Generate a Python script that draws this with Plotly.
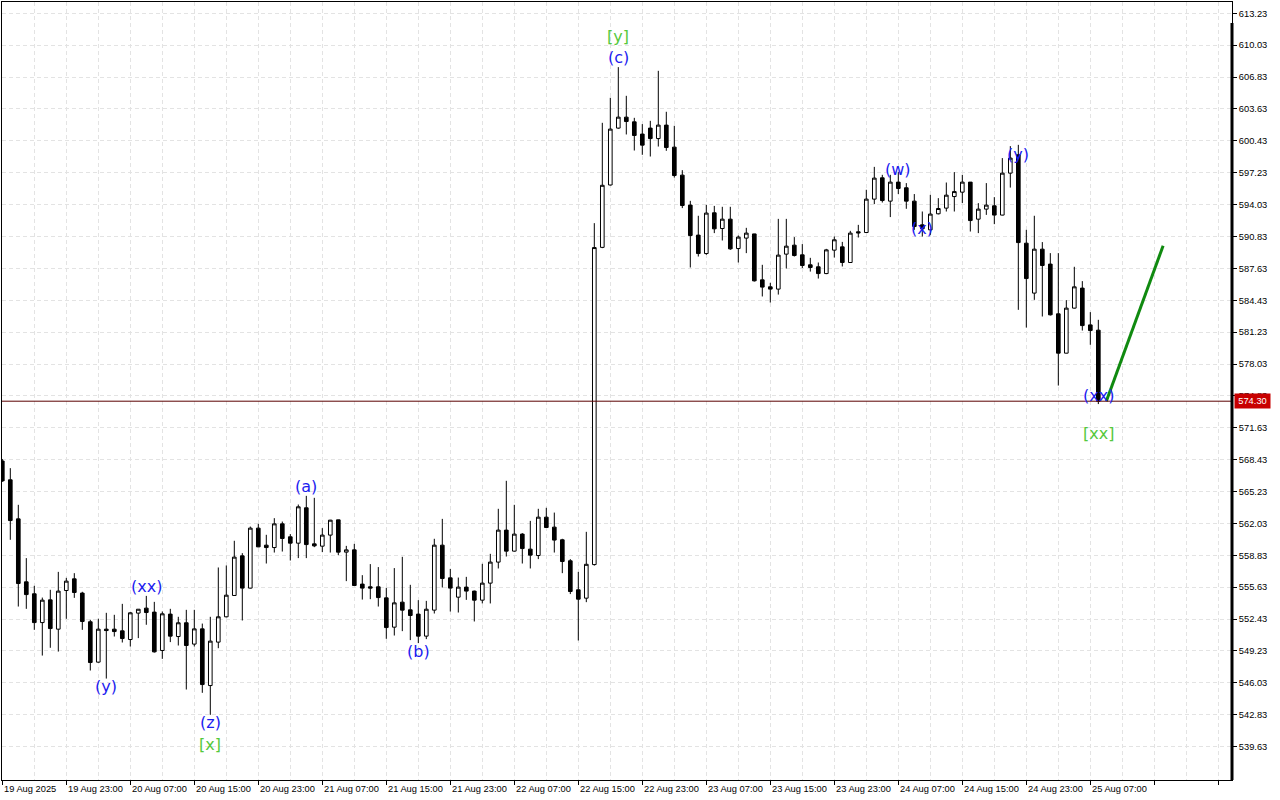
import pandas as pd
import plotly.graph_objects as go

# ---------------- data ----------------
start_time = "2025-08-19 15:00"

opens = [568.30, 566.41, 562.49, 556.17, 554.97, 552.08, 554.36, 551.42, 555.30, 556.47,
         555.04, 552.16, 548.11, 551.42, 551.42, 551.25, 550.38, 553.03, 553.53, 553.13,
         549.28, 552.93, 550.68, 552.06, 549.92, 551.45, 545.76, 550.12, 552.66, 554.80,
         558.78, 555.54, 561.56, 559.85, 559.61, 561.99, 560.69, 560.05, 563.60, 559.98,
         559.75, 560.86, 562.39, 559.15, 559.38, 555.94, 555.67, 555.67, 554.56, 551.62,
         554.13, 553.36, 552.93, 550.72, 553.33, 559.85, 556.57, 554.63, 555.64, 555.24,
         554.33, 556.04, 558.15, 561.36, 559.25, 560.96, 559.45, 558.81, 562.66, 561.66,
         560.39, 558.28, 555.37, 554.53, 557.90, 589.74, 596.00, 601.71, 602.81, 602.34,
         601.11, 601.71, 600.66, 602.01, 599.80, 596.99, 593.98, 590.97, 589.12, 593.21,
         591.63, 592.57, 589.62, 590.67, 591.09, 586.48, 585.78, 585.55, 589.06, 589.96,
         588.99, 587.99, 587.79, 587.11, 589.46, 589.79, 588.22, 591.30, 591.23, 594.58,
         596.72, 594.38, 596.29, 595.72, 594.38, 592.00, 591.50, 593.11, 593.68, 594.84,
         595.28, 596.29, 592.57, 593.58, 593.91, 592.98, 597.19, 599.03, 590.16, 585.15,
         589.56, 588.06, 583.07, 579.12, 583.64, 585.65, 581.96, 581.43]
highs = [568.50, 567.58, 563.90, 558.55, 555.77, 554.59, 555.37, 557.17, 556.57, 557.04,
         555.17, 552.36, 552.46, 553.06, 552.86, 553.96, 553.13, 553.43, 554.76, 554.16,
         553.19, 553.46, 552.66, 553.36, 553.36, 551.98, 552.66, 557.61, 557.81, 560.29,
         559.05, 561.72, 561.99, 560.89, 562.56, 562.22, 560.96, 563.93, 564.80, 564.60,
         561.56, 562.39, 562.40, 559.78, 559.98, 556.84, 557.95, 557.65, 555.57, 557.55,
         558.68, 555.87, 554.33, 554.26, 560.49, 562.49, 557.47, 556.60, 556.67, 555.29,
         557.98, 558.98, 563.50, 566.31, 563.90, 561.06, 562.29, 563.50, 563.60, 563.12,
         560.49, 558.45, 557.17, 561.19, 592.17, 602.24, 604.75, 607.83, 604.95, 602.74,
         602.11, 602.44, 607.46, 603.35, 601.94, 597.49, 594.41, 592.91, 594.01, 593.90,
         593.81, 593.81, 590.93, 591.70, 591.10, 587.99, 586.18, 592.60, 592.60, 590.77,
         590.07, 588.69, 588.22, 589.59, 590.83, 590.29, 591.40, 592.00, 595.52, 597.82,
         597.02, 597.02, 597.32, 596.19, 595.09, 593.34, 595.01, 594.68, 596.25, 597.29,
         597.02, 596.30, 594.18, 596.19, 594.78, 598.70, 599.90, 600.03, 591.50, 592.91,
         590.27, 589.16, 589.16, 584.44, 587.79, 586.35, 583.24, 582.47]
lows = [566.20, 560.39, 553.69, 553.46, 551.35, 548.77, 549.55, 549.17, 552.46, 554.56,
        551.35, 547.27, 548.05, 546.46, 550.68, 550.08, 549.68, 550.52, 551.86, 549.07,
        548.44, 550.12, 549.78, 545.36, 549.68, 545.03, 542.82, 549.51, 552.60, 554.75,
        552.29, 555.50, 559.65, 558.01, 559.11, 559.21, 558.31, 558.55, 558.55, 559.65,
        559.15, 559.11, 558.85, 556.24, 555.75, 554.39, 554.43, 553.69, 550.45, 550.78,
        551.22, 550.32, 550.02, 550.42, 552.99, 555.60, 553.19, 553.09, 554.36, 552.19,
        554.00, 554.00, 557.51, 558.71, 559.20, 558.01, 557.51, 558.45, 561.60, 559.11,
        557.04, 554.94, 550.28, 554.13, 557.80, 589.66, 595.95, 601.64, 601.07, 599.46,
        599.03, 598.86, 599.86, 599.43, 596.75, 593.68, 587.72, 588.82, 588.99, 591.17,
        590.43, 589.49, 588.22, 589.16, 586.31, 584.81, 584.20, 585.00, 587.62, 588.82,
        587.66, 587.31, 586.61, 587.05, 588.72, 587.82, 588.20, 590.73, 591.20, 594.08,
        594.24, 592.78, 595.09, 593.61, 591.50, 590.83, 591.00, 593.05, 593.34, 593.34,
        594.18, 591.33, 591.17, 593.00, 592.07, 592.95, 595.74, 583.47, 581.69, 584.47,
        582.80, 582.90, 575.87, 579.10, 583.60, 581.39, 579.96, 574.01]
closes = [566.30, 562.32, 556.00, 554.89, 552.08, 554.33, 551.48, 555.24, 556.24, 555.10,
          552.19, 548.07, 551.42, 551.28, 551.18, 550.48, 553.06, 553.42, 553.09, 549.14,
          552.96, 550.72, 552.06, 549.78, 551.45, 545.86, 550.22, 552.66, 554.83, 558.65,
          555.54, 561.56, 559.68, 559.61, 561.99, 560.52, 560.05, 563.70, 559.91, 559.78,
          560.86, 562.36, 559.15, 559.38, 555.80, 555.54, 555.54, 554.59, 551.58, 554.06,
          553.33, 552.79, 550.72, 553.42, 559.85, 556.50, 555.54, 555.64, 555.24, 554.33,
          556.04, 558.15, 561.36, 559.25, 560.96, 559.51, 558.85, 562.66, 561.62, 560.36,
          558.21, 555.20, 554.43, 557.93, 589.72, 595.97, 601.61, 602.81, 602.37, 600.97,
          600.00, 600.66, 602.01, 599.76, 596.95, 593.94, 590.93, 589.12, 593.18, 591.60,
          592.57, 589.59, 590.77, 591.17, 586.38, 585.75, 585.55, 588.96, 589.86, 588.92,
          587.92, 587.72, 587.11, 589.49, 590.50, 588.22, 591.17, 591.20, 594.58, 596.69,
          594.44, 596.29, 595.65, 594.38, 591.83, 591.60, 593.08, 593.64, 594.98, 595.34,
          596.29, 592.43, 593.58, 593.98, 592.98, 597.19, 598.70, 590.22, 586.61, 589.56,
          587.92, 582.97, 579.12, 583.64, 585.78, 581.89, 581.39, 574.30]

ytick_vals = [539.63, 542.83, 546.03, 549.23, 552.43, 555.63, 558.83, 562.03, 565.23, 568.43,
              571.63, 574.83, 578.03, 581.23, 584.43, 587.63, 590.83, 594.03, 597.23, 600.43,
              603.63, 606.83, 610.03, 613.23]
ytick_text = ["%.2f" % v for v in ytick_vals]

xtick_times = ["2025-08-19 15:00", "2025-08-19 23:00", "2025-08-20 07:00", "2025-08-20 15:00",
               "2025-08-20 23:00", "2025-08-21 07:00", "2025-08-21 15:00", "2025-08-21 23:00",
               "2025-08-22 07:00", "2025-08-22 15:00", "2025-08-22 23:00", "2025-08-23 07:00",
               "2025-08-23 15:00", "2025-08-23 23:00", "2025-08-24 07:00", "2025-08-24 15:00",
               "2025-08-24 23:00", "2025-08-25 07:00"]
xtick_text = ["19 Aug 2025", "19 Aug 23:00", "20 Aug 07:00", "20 Aug 15:00", "20 Aug 23:00",
              "21 Aug 07:00", "21 Aug 15:00", "21 Aug 23:00", "22 Aug 07:00", "22 Aug 15:00",
              "22 Aug 23:00", "23 Aug 07:00", "23 Aug 15:00", "23 Aug 23:00", "24 Aug 07:00",
              "24 Aug 15:00", "24 Aug 23:00", "25 Aug 07:00"]

wave_text = ["[y]", "(c)", "(a)", "(xx)", "(y)", "(z)", "[x]", "(b)", "(w)", "(x)", "(y)", "(xx)", "[xx]"]
wave_time = ["2025-08-22 20:00", "2025-08-22 20:00", "2025-08-21 05:00", "2025-08-20 09:00",
             "2025-08-20 04:00", "2025-08-20 17:00", "2025-08-20 17:00", "2025-08-21 19:00",
             "2025-08-24 07:00", "2025-08-24 10:00", "2025-08-24 22:00", "2025-08-25 08:00",
             "2025-08-25 08:00"]
wave_price = [610.87, 608.76, 565.70, 555.67, 545.63, 542.02, 539.81, 549.14,
              597.52, 591.60, 599.03, 574.84, 571.02]
wave_color = ["#55c83c", "#1c1cf0", "#1c1cf0", "#1c1cf0", "#1c1cf0", "#1c1cf0", "#55c83c", "#1c1cf0",
              "#1c1cf0", "#1c1cf0", "#1c1cf0", "#1c1cf0", "#55c83c"]

proj_time = ["2025-08-25 09:00", "2025-08-25 16:06"]
proj_price = [574.30, 589.90]

last_price = 574.30

# ---------------- figure ----------------
times = pd.date_range(start_time, periods=len(opens), freq="h")
x_left = pd.Timestamp(start_time) - pd.Timedelta(hours=0.0375)
x_right = pd.Timestamp(start_time) + pd.Timedelta(hours=153.71)

fig = go.Figure()
fig.add_trace(go.Candlestick(
    x=times, open=opens, high=highs, low=lows, close=closes,
    increasing=dict(line=dict(color="black", width=1), fillcolor="white"),
    decreasing=dict(line=dict(color="black", width=1), fillcolor="black"),
    whiskerwidth=0, showlegend=False, hoverinfo="skip"))

fig.add_trace(go.Scatter(x=proj_time, y=proj_price, mode="lines",
                         line=dict(color="#108a10", width=3), showlegend=False, hoverinfo="skip"))

grid_col = "#e3e3e3"
grid_dash = "4px,3px"
tick_font = dict(family="Liberation Sans, Arial, sans-serif", size=9.3, color="black")

fig.update_layout(
    width=1280, height=800, autosize=False,
    margin=dict(l=2, r=48, t=2, b=20, pad=0),
    paper_bgcolor="white", plot_bgcolor="white",
    boxgap=0.35,
    showlegend=False,
    xaxis=dict(
        type="date", range=[x_left, x_right],
        rangeslider=dict(visible=False),
        tick0=start_time, dtick=8 * 3600 * 1000,
        showticklabels=False, ticks="outside", ticklen=4, tickcolor="black", tickwidth=1,
        showgrid=True, gridcolor=grid_col, griddash=grid_dash, gridwidth=1,
        minor=dict(tick0=start_time, dtick=4 * 3600 * 1000, showgrid=True,
                   gridcolor=grid_col, griddash=grid_dash, gridwidth=1, ticks=""),
        showline=True, linecolor="black", linewidth=1, mirror=True,
        zeroline=False, fixedrange=True,
    ),
    yaxis=dict(
        range=[536.28, 614.367], side="right",
        tickmode="array", tickvals=ytick_vals, ticktext=ytick_text,
        ticks="outside", ticklen=4, tickcolor="black", tickwidth=1,
        tickfont=tick_font,
        showgrid=True, gridcolor=grid_col, griddash=grid_dash, gridwidth=1,
        showline=True, linecolor="black", linewidth=1, mirror=True,
        zeroline=False, fixedrange=True,
    ),
)

# current price line
fig.add_shape(type="line", xref="paper", x0=0, x1=1, yref="y", y0=last_price, y1=last_price,
              line=dict(color="#5a0000", width=1), layer="above")

# thick right border
fig.add_shape(type="line", xref="paper", x0=1, x1=1, yref="paper", y0=0, y1=0.973,
              line=dict(color="black", width=3), layer="above")

# x tick labels, left aligned at the tick mark
for t, txt in zip(xtick_times, xtick_text):
    fig.add_annotation(x=t, xref="x", y=0, yref="paper", text=txt, showarrow=False,
                       xanchor="left", yanchor="top", xshift=0, yshift=-2,
                       font=tick_font)

# wave labels
for txt, t, p, c in zip(wave_text, wave_time, wave_price, wave_color):
    fig.add_annotation(x=t, y=p, text=txt, showarrow=False, xanchor="center", yanchor="middle",
                       font=dict(family="DejaVu Sans, Verdana, sans-serif", size=16, color=c))

# current price box
fig.add_annotation(x=1, xref="paper", y=last_price, yref="y", text="%.2f" % last_price,
                   showarrow=False, xanchor="left", yanchor="middle", xshift=2,
                   bgcolor="#c80000", font=dict(family="Liberation Sans, Arial, sans-serif",
                                                size=9.3, color="white"),
                   borderpad=1, width=33, height=12, align="center")

fig.write_html("out.html", config={"displayModeBar": False},
               post_script="document.body.style.margin='0';document.body.style.overflow='hidden';")
